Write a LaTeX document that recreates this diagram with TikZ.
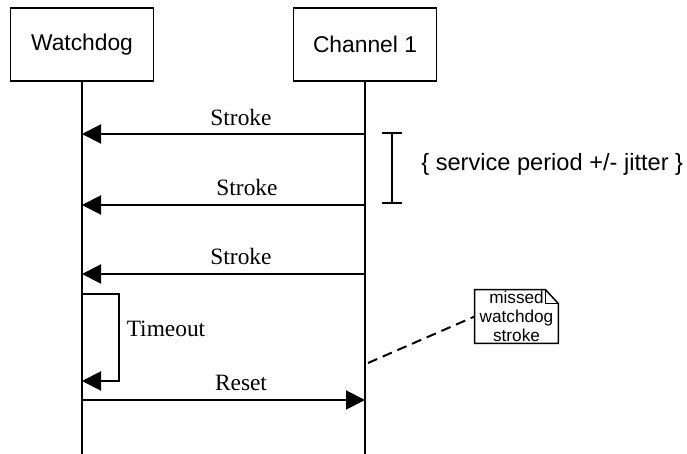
\documentclass[tikz,border=0pt]{standalone}
\usepackage{fontspec}
\setmainfont{Liberation Serif}
\setsansfont{Liberation Sans}
\usetikzlibrary{arrows.meta,calc}
\begin{document}
\begin{tikzpicture}[x=0.5pt,y=-0.5pt,
  actor/.style={draw,line width=0.75pt,minimum width=71.5pt,minimum height=36.5pt,inner sep=0pt,font=\sffamily\fontsize{11.4}{13}\selectfont},
  life/.style={line width=0.75pt},
  msg/.style={line width=1pt,-{Triangle[length=9.5pt,width=9.5pt]}},
  lbl/.style={font=\fontsize{11.7}{13}\selectfont,inner sep=0pt,anchor=base},
  notetext/.style={font=\sffamily\fontsize{8.6}{9.6}\selectfont,align=center,inner sep=0pt}]
\useasboundingbox (0,0) rectangle (687,454);
% actors
\node[actor] (wd) at (82,44.5) {Watchdog};
\node[actor] (ch) at (365,44.5) {Channel 1};
\coordinate (wdEnd) at (82,454);
\coordinate (chEnd) at (365,454);
\draw[life] (wd.south) -- (wdEnd);
\draw[life] (ch.south) -- (chEnd);
% strokes
\coordinate (c1) at (365,134); \coordinate (w1) at (82,134);
\coordinate (c2) at (365,205); \coordinate (w2) at (82,205);
\coordinate (c3) at (365,274); \coordinate (w3) at (82,274);
\draw[msg] (c1) -- (w1);
\draw[msg] (c2) -- (w2);
\draw[msg] (c3) -- (w3);
\node[lbl] (s1) at (241,126) {Stroke};
\node[lbl] (s2) at (247,196) {Stroke};
\node[lbl] (s3) at (241,265) {Stroke};
% timeout
\coordinate (t1) at (82,294);
\coordinate (t2) at (82,381);
\draw[msg] (t1) -- (119,294) |- (t2);
\node[lbl] (to) at (166,337) {Timeout};
% reset
\coordinate (r1) at (82,400);
\coordinate (r2) at (365,400);
\draw[msg] (r1) -- (r2);
\node[lbl] (rs) at (241,391) {Reset};
% bracket
\coordinate (b1) at (392,133);
\coordinate (b2) at (392,203);
\draw[line width=1pt] (b1) -- (b2);
\draw[line width=1pt] ($(b1)+(-10,0)$) -- ($(b1)+(10,0)$);
\draw[line width=1pt] ($(b2)+(-10,0)$) -- ($(b2)+(10,0)$);
\node[font=\sffamily\fontsize{11.8}{13}\selectfont,inner sep=0pt,anchor=west] (sp) at (421,164) {\{ service period +/- jitter \}};
% note
\node[notetext,minimum width=41.5pt,minimum height=26.5pt] (note) at (516.5,316.5) {missed\\watchdog\\stroke};
\draw[line width=0.75pt] (note.north west) -- ($(note.north east)+(-13,0)$) -- ($(note.north east)+(0,14)$) -- (note.south east) -- (note.south west) -- cycle;
\draw[line width=0.75pt] ($(note.north east)+(-13,0)$) -- ($(note.north east)+(-13,14)$) -- ($(note.north east)+(0,14)$);
\coordinate (miss) at (368,363);
\draw[line width=1pt,dash pattern=on 5pt off 3pt] (miss) -- (note.west);
\end{tikzpicture}
\end{document}
